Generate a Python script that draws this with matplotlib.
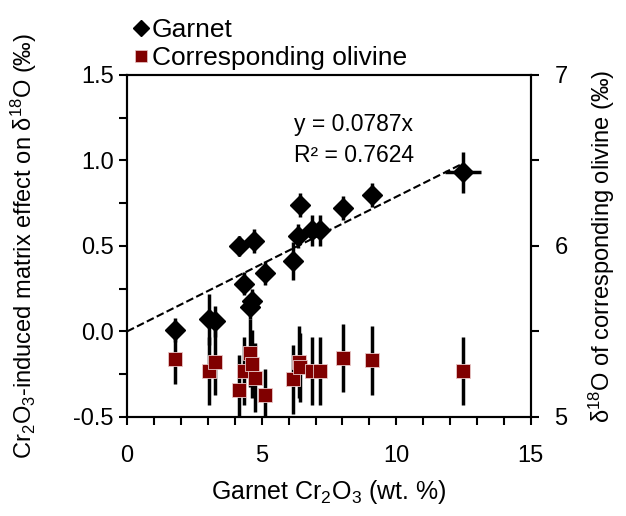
import matplotlib
matplotlib.use("Agg")
import matplotlib.pyplot as plt
from matplotlib.ticker import MultipleLocator
from matplotlib.lines import Line2D
import numpy as np

plt.rcParams['font.family'] = ['Liberation Sans', 'DejaVu Sans']
plt.rcParams['mathtext.fontset'] = 'custom'
plt.rcParams['mathtext.rm'] = 'Liberation Sans'
plt.rcParams['mathtext.it'] = 'Liberation Sans'
plt.rcParams['mathtext.default'] = 'regular'

# garnet Cr2O3 (wt. %) and matrix effect (permil)
garnet_cr = [1.78, 3.06, 3.27, 4.16, 4.73, 4.35, 4.64, 4.55, 5.14, 6.16,
             6.41, 6.35, 6.87, 7.17, 8.04, 9.10, 12.48]
garnet_eff = [0.01, 0.07, 0.06, 0.50, 0.53, 0.28, 0.18, 0.14, 0.34, 0.41,
              0.74, 0.56, 0.59, 0.59, 0.72, 0.80, 0.93]
garnet_yerr = [0.07, 0.15, 0.09, 0.06, 0.07, 0.07, 0.07, 0.07, 0.07, 0.11,
               0.07, 0.07, 0.09, 0.09, 0.07, 0.07, 0.12]
garnet_xerr = [0, 0, 0, 0, 0, 0, 0, 0, 0, 0, 0, 0, 0, 0, 0, 0, 0.67]

# corresponding olivine d18O (permil)
olivine_cr = [1.78, 3.06, 3.27, 4.16, 4.35, 4.55, 4.64, 4.76, 5.14, 6.16,
              6.37, 6.43, 6.87, 7.17, 8.04, 9.10, 12.48]
olivine_d18o = [5.34, 5.27, 5.32, 5.16, 5.27, 5.375, 5.31, 5.23, 5.13, 5.22,
                5.32, 5.29, 5.27, 5.27, 5.345, 5.33, 5.27]
olivine_err = [0.15, 0.2, 0.19, 0.2, 0.2, 0.2, 0.2, 0.2, 0.15, 0.2,
               0.21, 0.2, 0.2, 0.2, 0.2, 0.2, 0.2]

slope = 0.0787
red = '#800000'

fs = 17
fig = plt.figure(figsize=(6.26, 5.16), dpi=100)
ax = fig.add_axes([0.203, 0.192, 0.645, 0.663])
ax2 = ax.twinx()

ax.errorbar(garnet_cr, garnet_eff, yerr=garnet_yerr, xerr=garnet_xerr,
            fmt='D', color='black', ms=10, elinewidth=2.5, capsize=0,
            zorder=3)
fit_x = np.array([0, max(garnet_cr)])
ax.plot(fit_x, slope * fit_x, '--', color='black', lw=1.5, zorder=2)
ax.text(6.2, 1.21, 'y = 0.0787x', fontsize=16.5, va='center')
ax.text(6.2, 1.03, 'R² = 0.7624', fontsize=16.5, va='center')

ax2.errorbar(olivine_cr, olivine_d18o, yerr=olivine_err, fmt='s',
             color='black', mfc=red, mec='#e8c8c8', mew=0.6, ms=9.5,
             elinewidth=2.5, capsize=0)

ax.set_xlim(0, 15)
ax.set_ylim(-0.5, 1.5)
ax2.set_ylim(5, 7)
ax.xaxis.set_major_locator(MultipleLocator(5))
ax.xaxis.set_minor_locator(MultipleLocator(1))
ax.yaxis.set_minor_locator(MultipleLocator(0.25))
ax.set_yticks([-0.5, 0.0, 0.5, 1.0, 1.5])
ax.set_yticklabels(['-0.5', '0.0', '0.5', '1.0', '1.5'])
ax2.yaxis.set_major_locator(MultipleLocator(1))
ax2.yaxis.set_minor_locator(MultipleLocator(0.5))

for a in (ax, ax2):
    a.tick_params(which='both', direction='out', length=6, width=1.5,
                  labelsize=fs)
    for s in a.spines.values():
        s.set_linewidth(1.5)
ax.tick_params(axis='x', pad=14)
ax2.tick_params(axis='y', pad=11)

ax.set_xlabel('Garnet Cr$_2$O$_3$ (wt. %)', fontsize=18, labelpad=8)
ax.set_ylabel('Cr$_2$O$_3$-induced matrix effect on δ$^{18}$O (‰)',
              fontsize=fs, labelpad=25)
ax2.set_ylabel('δ$^{18}$O of corresponding olivine (‰)', fontsize=fs,
               labelpad=14)

handles = [Line2D([], [], ls='none', marker='D', color='black', ms=8),
           Line2D([], [], ls='none', marker='s', mfc=red, mec='#e8c8c8',
                  mew=0.5, ms=8)]
fig.legend(handles, ['Garnet', 'Corresponding olivine'], loc='upper left',
           bbox_to_anchor=(0.19, 0.995), frameon=False, fontsize=19,
           handlelength=0.5, handletextpad=0.15, labelspacing=0.15,
           borderaxespad=0.2)

fig.savefig('out.png', dpi=100)
